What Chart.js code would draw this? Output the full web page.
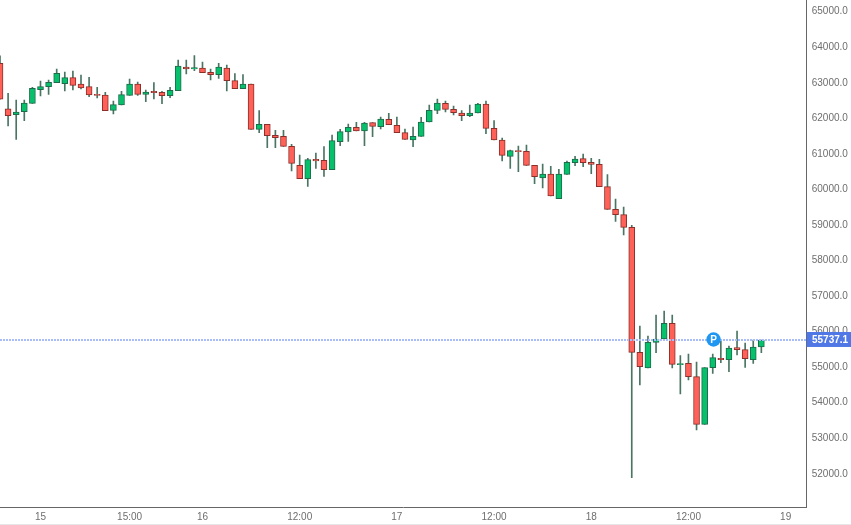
<!DOCTYPE html>
<html>
<head>
<meta charset="utf-8">
<script src="https://cdn.jsdelivr.net/npm/chart.js@4"></script>
<style>
  html, body { margin: 0; padding: 0; background: #fff; overflow: hidden; }
  #wrap { width: 851px; height: 524px; position: relative; border-bottom: 1px solid #e6e6e6; }
</style>
</head>
<body>
<div id="wrap"><canvas id="chart"></canvas></div>
<script>
// hourly candles
const opens = [63520,62240,62075,62160,62394,62779,62863,62975,62947,63116,62938,62863,62647,62629,62197,62347,62619,62938,62647,62732,62704,62610,62750,63416,63360,63388,63266,63201,63388,63032,62807,62938,61663,
  61803,61494,61466,61184,60650,60275,60819,60790,60528,61316,61588,61719,61616,61850,61738,61944,61775,61569,61362,61466,61869,62197,62394,62225,62122,62047,62122,62375,
  61691,61363,60903,61063,61044,60650,60294,60406,59712,60397,60725,60838,60734,60678,60050,59412,59262,58906,
  55390,54949,55671,55765,56206,55043,55080,54705,53364,54958,55221,55184,55521,55465,55184,55540];
const highs = [63730,62675,62488,62488,62844,63022,63050,63360,63275,63303,63191,63125,62844,62704,62460,62732,63079,62994,62769,62975,62732,62844,63613,63613,63735,63557,63360,63520,63472,63229,63201,62938,62188,
  61803,61634,61634,61241,60940,60847,60997,61175,61503,61663,61813,61859,61859,61850,62009,62113,62009,61672,61728,62000,62347,62516,62460,62319,62188,62347,62394,62460,
  61907,61419,61081,61194,61222,60650,60688,60622,60538,60772,60903,60969,60847,60819,60388,59703,59478,58962,
  56131,55849,56440,56553,56440,55296,55343,55118,54958,55343,55737,55568,55990,55652,55737,55737.1];
const lows = [62510,61757,61381,61907,62394,62600,62647,62975,62741,62769,62797,62582,62544,62188,62094,62347,62619,62619,62441,62516,62385,62553,62750,63219,63313,63257,63050,63097,62741,62807,62807,61663,61569,
  61147,61147,61184,60490,60275,60059,60565,60340,60528,61203,61325,61616,61203,61456,61672,61794,61569,61381,61175,61466,61869,62103,62150,62066,61906,62019,62122,61541,
  61363,60772,60566,60472,60650,60134,60012,59787,59712,60397,60641,60613,60416,60050,59412,59075,58690,51864,
  54471,54949,55380,55765,54949,54218,54612,53205,53364,54799,55099,54846,55315,54968,55080,55380];
const closes = [62510,62047,62150,62404,62816,62863,62985,63238,63116,62900,62825,62629,62619,62188,62357,62638,62938,62647,62713,62694,62610,62760,63444,63360,63397,63257,63201,63416,63032,62807,62938,61663,61803,
  61484,61428,61184,60706,60275,60809,60772,60528,61344,61597,61719,61616,61841,61747,61953,61794,61569,61381,61466,61869,62197,62403,62225,62131,62047,62122,62375,61691,
  61363,60931,61063,61035,60650,60331,60406,59787,60406,60734,60828,60725,60678,60050,59412,59262,58906,55390,
  54987,55671,55765,56206,55052,55071,54705,53364,54958,55240,55184,55512,55465,55212,55540,55737.1];

const lastPrice = 55737.1;
const markerIndex = 88.1;
const markerLabel = 'P';
const yTicks = [52000,53000,54000,55000,56000,57000,58000,59000,60000,61000,62000,63000,64000,65000];
const xTickIndex = [5,16,25,37,49,61,73,85,97];
const xTickLabels = ['15','15:00','16','12:00','17','12:00','18','12:00','19'];

const UP = '#06c06c', UP_EDGE = '#1c6b4a';
const DOWN = '#ff6158', DOWN_EDGE = '#8a2f2a';
const WICK = '#4a7563';

const isUp = i => closes[i] >= opens[i];

// price line, its label and the P marker go on top of the candles
const overlay = {
  id: 'overlay',
  afterDatasetsDraw(chart) {
    const { ctx, scales: { x, y }, chartArea } = chart;
    const py = y.getPixelForValue(lastPrice);
    ctx.save();
    ctx.strokeStyle = '#a9bef8';
    ctx.lineWidth = 2;
    ctx.setLineDash([2, 1]);
    ctx.beginPath();
    ctx.moveTo(chartArea.left, Math.round(py));
    ctx.lineTo(chartArea.right, Math.round(py));
    ctx.stroke();
    ctx.setLineDash([]);

    ctx.fillStyle = '#1f96f2';
    ctx.beginPath();
    ctx.arc(x.getPixelForValue(markerIndex), py - 0.5, 7.2, 0, Math.PI * 2);
    ctx.fill();
    ctx.fillStyle = '#fff';
    ctx.font = 'bold 10px "Liberation Sans"';
    ctx.textAlign = 'center';
    ctx.textBaseline = 'middle';
    ctx.fillText(markerLabel, x.getPixelForValue(markerIndex), py);

    ctx.fillStyle = '#4f78e6';
    ctx.fillRect(chartArea.right, py - 8, 851 - chartArea.right, 15);
    ctx.fillStyle = '#fff';
    ctx.font = 'bold 10px "Liberation Sans"';
    ctx.textAlign = 'left';
    ctx.fillText(lastPrice.toFixed(1), 812, py);
    ctx.restore();
  }
};

new Chart(document.getElementById('chart'), {
  type: 'bar',
  data: {
    datasets: [
      {
        label: 'body',
        order: 1,
        data: opens.map((o, i) => ({ x: i, y: [o, closes[i]] })),
        barThickness: 6,
        borderWidth: 1,
        borderSkipped: false,
        backgroundColor: opens.map((o, i) => isUp(i) ? UP : DOWN),
        borderColor: opens.map((o, i) => isUp(i) ? UP_EDGE : DOWN_EDGE)
      },
      {
        label: 'wick',
        order: 2,
        data: highs.map((h, i) => ({ x: i, y: [lows[i], h] })),
        barThickness: 1,
        borderWidth: 0,
        backgroundColor: WICK
      }
    ]
  },
  options: {
    responsive: true,
    maintainAspectRatio: false,
    animation: false,
    layout: { padding: 0 },
    datasets: { bar: { grouped: false } },
    plugins: { legend: { display: false }, tooltip: { enabled: false } },
    scales: {
      x: {
        type: 'linear',
        offset: false,
        min: 0,
        max: 99.6,
        grid: { display: false, drawTicks: true, tickLength: 4 },
        border: { color: '#666' },
        afterBuildTicks(axis) { axis.ticks = xTickIndex.map(v => ({ value: v })); },
        afterFit(axis) { axis.height = 524 - 507.3; axis.paddingLeft = 0; axis.paddingRight = 0; },
        ticks: {
          autoSkip: false,
          maxRotation: 0,
          color: '#6e6e6e',
          padding: 0,
          font: { family: '"Liberation Sans"', size: 10 },
          callback: v => xTickLabels[xTickIndex.indexOf(v)]
        }
      },
      y: {
        position: 'right',
        min: 51030,
        max: 65301,
        grid: { display: false, tickLength: 4 },
        border: { color: '#666' },
        afterBuildTicks(axis) { axis.ticks = yTicks.map(v => ({ value: v })); },
        afterFit(axis) { axis.width = 851 - 806.7; axis.paddingTop = 0; axis.paddingBottom = 0; },
        ticks: {
          autoSkip: false,
          color: '#6e6e6e',
          padding: 1,
          labelOffset: 1,
          font: { family: '"Liberation Sans"', size: 10 },
          callback: v => v.toFixed(1)
        }
      }
    }
  },
  plugins: [overlay]
});
</script>
</body>
</html>
